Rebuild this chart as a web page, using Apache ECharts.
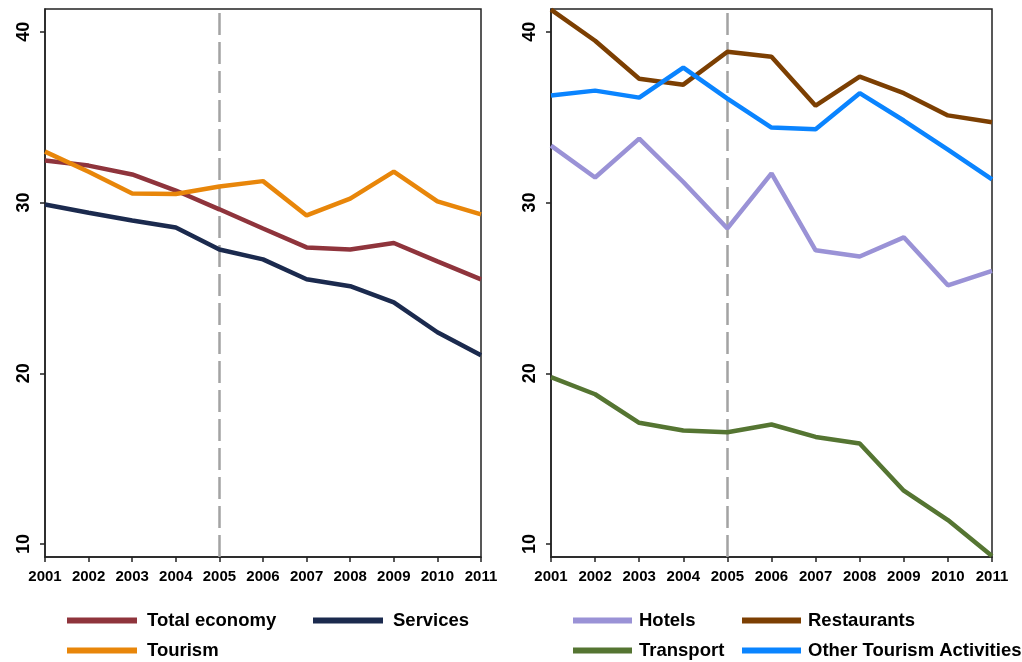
<!DOCTYPE html>
<html><head><meta charset="utf-8">
<script src="https://cdn.jsdelivr.net/npm/echarts@6/dist/echarts.min.js"></script>
<style>html,body{margin:0;padding:0;background:#fff}#c{width:1022px;height:662px}</style>
</head><body><div id="c"></div>
<script>
const years = ['2001','2002','2003','2004','2005','2006','2007','2008','2009','2010','2011'];
const yTicks = [10, 20, 30, 40];
const totalEconomy = [32.46, 32.16, 31.64, 30.7, 29.6, 28.48, 27.37, 27.25, 27.63, 26.55, 25.5];
const services = [29.88, 29.4, 28.94, 28.54, 27.25, 26.67, 25.5, 25.1, 24.15, 22.4, 21.05];
const tourism = [32.98, 31.8, 30.53, 30.5, 30.94, 31.25, 29.24, 30.23, 31.81, 30.06, 29.3];
const hotels = [33.33, 31.46, 33.74, 31.2, 28.48, 31.7, 27.2, 26.84, 27.96, 25.15, 26.0];
const restaurants = [41.29, 39.47, 37.25, 36.9, 38.83, 38.54, 35.67, 37.37, 36.4, 35.1, 34.7];
const transport = [19.77, 18.77, 17.1, 16.65, 16.55, 17.0, 16.27, 15.89, 13.12, 11.4, 9.3];
const otherTourism = [36.26, 36.55, 36.14, 37.9, 36.08, 34.39, 34.29, 36.4, 34.8, 33.1, 31.35];
const breakYear = '2005';

const FONT = 'Liberation Sans, Arial, sans-serif';
function xAx(i){return {type:'category',gridIndex:i,data:years,boundaryGap:false,
  axisLine:{lineStyle:{color:'#222',width:1.5}},
  axisTick:{length:5,lineStyle:{color:'#222',width:1.5}},
  axisLabel:{color:'#000',fontWeight:'bold',fontSize:15,fontFamily:FONT,margin:12,interval:0},
  splitLine:{show:false}};}
function yAx(i){return {type:'value',gridIndex:i,min:9.24,max:41.33,
  axisLine:{show:true,lineStyle:{color:'#222',width:1.5}},
  axisTick:{show:true,length:5,customValues:yTicks,lineStyle:{color:'#222',width:1.5}},
  axisLabel:{customValues:yTicks,rotate:90,color:'#000',fontWeight:'bold',fontSize:18,fontFamily:FONT,margin:12},
  splitLine:{show:false}};}
function ser(name,data,color,i,ml){
  const s={name:name,type:'line',data:data,xAxisIndex:i,yAxisIndex:i,symbol:'none',
    lineStyle:{color:color,width:4.5},itemStyle:{color:color},z:3};
  if(ml){s.markLine={silent:true,symbol:'none',label:{show:false},
    lineStyle:{color:'#A3A3A3',width:2.5,type:[22,7]},data:[{xAxis:breakYear}],z:1};}
  return s;}
function leg(name,left,top,w){return {data:[name],left:left,top:top,itemWidth:w,itemHeight:6,icon:'rect',
  itemGap:0,selectedMode:false,textStyle:{color:'#000',fontWeight:'bold',fontSize:18.5,fontFamily:FONT,padding:[0,0,0,w===70?5:2]}};}
const chart = echarts.init(document.getElementById('c'));
chart.setOption({
  animation:false,
  grid:[{left:45,right:541,top:9,bottom:105,show:true,borderColor:'#222',borderWidth:1.5},
        {left:551,right:30,top:9,bottom:105,show:true,borderColor:'#222',borderWidth:1.5}],
  xAxis:[xAx(0),xAx(1)],
  yAxis:[yAx(0),yAx(1)],
  legend:[leg('Total economy',62,606,70),leg('Services',308,606,70),leg('Tourism',62,636,70),
          leg('Hotels',568,606,59),leg('Restaurants',737,606,59),leg('Transport',568,636,59),leg('Other Tourism Activities',737,636,59)],
  series:[
    ser('Total economy',totalEconomy,'#8F343C',0,true),
    ser('Services',services,'#1B2A4E',0,false),
    ser('Tourism',tourism,'#E8860A',0,false),
    ser('Hotels',hotels,'#9A92D6',1,true),
    ser('Restaurants',restaurants,'#7C3F02',1,false),
    ser('Transport',transport,'#557532',1,false),
    ser('Other Tourism Activities',otherTourism,'#0A84FF',1,false)
  ]
});
</script></body></html>
